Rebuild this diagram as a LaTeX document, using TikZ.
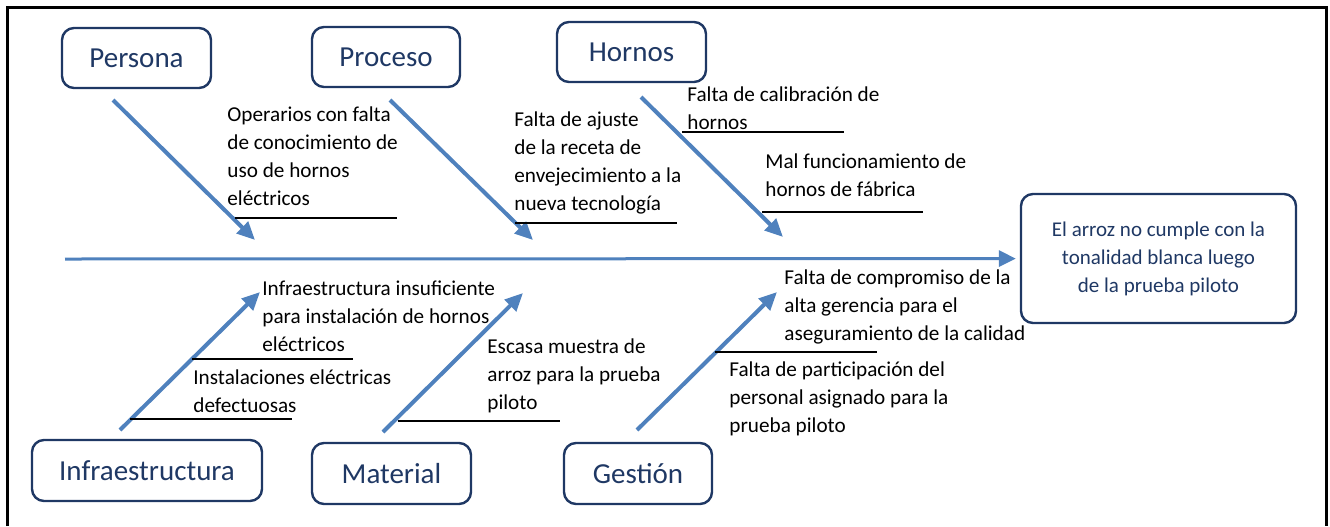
\documentclass[tikz,border=0pt]{standalone}
\usepackage{fontspec}
\setmainfont{Carlito}
\usetikzlibrary{arrows.meta}
\definecolor{espina}{HTML}{4F81BD}
\definecolor{marino}{HTML}{1F3864}

\begin{document}
\begin{tikzpicture}[x=0.5pt,y=-0.5pt]
  \useasboundingbox (0,0) rectangle (1330,526);
  \draw[line width=1.5pt] (7,526) -- (7,7) -- (1326,7) -- (1326,526);
          \begin{scope}[every node/.style={draw=marino,text=marino,line width=1.2pt,rounded corners=6pt,inner sep=0pt,font=\fontsize{14.5}{17}\selectfont}]
            \node[minimum width=74.5pt,minimum height=30pt] (persona) at (136.5,58) {Persona};
            \node[minimum width=74pt,minimum height=30pt] (proceso) at (386,57) {Proceso};
            \node[minimum width=74.5pt,minimum height=30pt] (hornos) at (631.5,52) {Hornos};
            \node[minimum width=115pt,minimum height=30.5pt] (infra) at (147,470.5) {Infraestructura};
            \node[minimum width=79.5pt,minimum height=30.5pt] (material) at (391.5,473.5) {Material};
            \node[minimum width=74pt,minimum height=30.5pt] (gestion) at (638,473.5) {Gestión};
            \node[minimum width=137.5pt,minimum height=64.5pt,align=center,font=\fontsize{10.5}{14}\selectfont] (efecto) at (1158.5,258.5)
              {El arroz no cumple con la\\tonalidad blanca luego\\de la prueba piloto};
          \end{scope}
          \begin{scope}[every node/.style={anchor=north west,align=left,inner sep=0pt,font=\fontsize{10.6}{14}\selectfont}]
            \node (c1) at (227,106) {Operarios con falta\\de conocimiento de\\uso de hornos\\eléctricos};
            \node (c2) at (514,111) {Falta de ajuste\\de la receta de\\envejecimiento a la\\nueva tecnología};
            \node (c3) at (687,86) {Falta de calibración de\\hornos};
            \node (c4) at (765,153) {Mal funcionamiento de\\hornos de fábrica};
            \node (c5) at (262,280) {Infraestructura insuficiente\\para instalación de hornos\\eléctricos};
            \node (c6) at (193,369) {Instalaciones eléctricas\\defectuosas};
            \node (c7) at (487,338) {Escasa muestra de\\arroz para la prueba\\piloto};
            \node (c8) at (784,269) {Falta de compromiso de la\\alta gerencia para el\\aseguramiento de la calidad};
            \node (c9) at (729,361) {Falta de participación del\\personal asignado para la\\prueba piloto};
          \end{scope}
          % espinas
          \coordinate (cola) at (65,259);
          \coordinate (pa) at (113,100); \coordinate (pb) at (255,240);
          \coordinate (ra) at (390,100); \coordinate (rb) at (533,240);
          \coordinate (ha) at (641,97);  \coordinate (hb) at (783,237);
          \coordinate (ia) at (120,430); \coordinate (ib) at (260,292);
          \coordinate (ma) at (383,432); \coordinate (mb) at (523,293);
          \coordinate (ga) at (637,430); \coordinate (gb) at (777,292);
          \draw[espina,line width=1.5pt,-{Triangle[length=8.5pt,width=8pt]},shorten >=2pt] (cola) -- (efecto);
          \begin{scope}[every edge/.style={draw=espina,line width=2pt,-{Triangle[length=9pt,width=8pt]}}]
            \path (pa) edge (pb);
            \path (ra) edge (rb);
            \path (ha) edge (hb);
            \path (ia) edge (ib);
            \path (ma) edge (mb);
              \path (ga) edge (gb);
          \end{scope}
          % subrayados
          \begin{scope}[line width=1pt]
            \draw (235,218) -- (397,218);
            \draw (515,223) -- (677,223);
            \draw (682,132) -- (844,132);
            \draw (762,212) -- (923,212);
            \draw (192,359) -- (353,359);
            \draw (130,419) -- (292,419);
            \draw (398,421) -- (560,421);
            \draw (715,352) -- (877,352);
          \end{scope}
\end{tikzpicture}
\end{document}
